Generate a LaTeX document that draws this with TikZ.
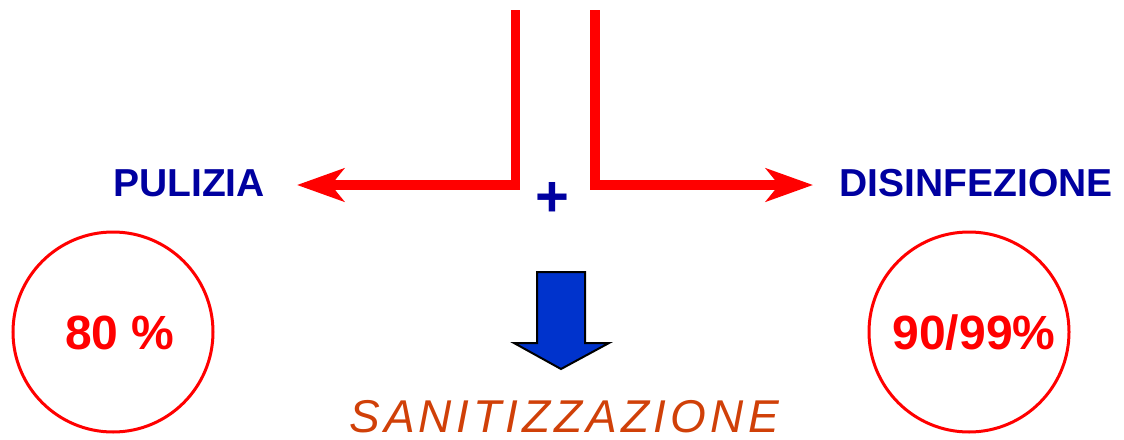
\documentclass[tikz,border=0pt]{standalone}
\usepackage{fontspec}
\setmainfont{Liberation Sans}
\usetikzlibrary{arrows.meta}
\definecolor{navy}{RGB}{0,0,160}
\definecolor{rust}{RGB}{208,64,8}
\definecolor{arrowblue}{RGB}{0,51,204}
\tikzset{
  label text/.style={text=navy, font=\bfseries\fontsize{39}{40}\selectfont, inner sep=0pt},
  pct circle/.style={circle, draw=red, line width=3pt, minimum size=200pt, inner sep=0pt},
  pct text/.style={text=red, font=\bfseries\fontsize{48}{50}\selectfont, inner sep=0pt},
  red line/.style={draw=red, line width=9.5pt, line join=miter,
     -{Stealth[length=47pt, width=33pt, inset=13pt]}},
}
\begin{document}
\begin{tikzpicture}[x=1pt, y=-1pt]
\useasboundingbox (0,0) rectangle (1124,439);
% coordinates
\coordinate (ltop) at (515.5,10);
\coordinate (lcorner) at (515.5,185);
\coordinate (ltip) at (297,185);
\coordinate (rtop) at (595,10);
\coordinate (rcorner) at (595,185);
\coordinate (rtip) at (813,185);
% labels
\node[label text] (pulizia) at (189,183.5) {PULIZIA};
\node[label text] (disinf) at (976,183.5) {DISINFEZIONE};
\node[text=navy, font=\bfseries\fontsize{58}{60}\selectfont, inner sep=0pt] (plus) at (552.5,199.5) {+};
% red connectors
\draw[red line] (ltop) -- (lcorner) -- (ltip);
\draw[red line] (rtop) -- (rcorner) -- (rtip);
% circles
\node[pct circle] (c1) at (113,332) {};
\node[pct text] (t1) at (120,333) {80 \%};
\node[pct circle] (c2) at (969,332) {};
\node[pct text] (t2) at (974,333) {90/99\%};
% blue arrow
\draw[fill=arrowblue, draw=black, line width=2pt, line join=miter]
  (537,272) -- (585,272) -- (585,343) -- (609,343) -- (561,369) -- (514,343) -- (537,343) -- cycle;
% sanitizzazione
\node[text=rust, font=\itshape\addfontfeature{LetterSpace=9}\fontsize{46}{48}\selectfont, inner sep=0pt]
  (san) at (564,417) {SANITIZZAZIONE};
\end{tikzpicture}
\end{document}
